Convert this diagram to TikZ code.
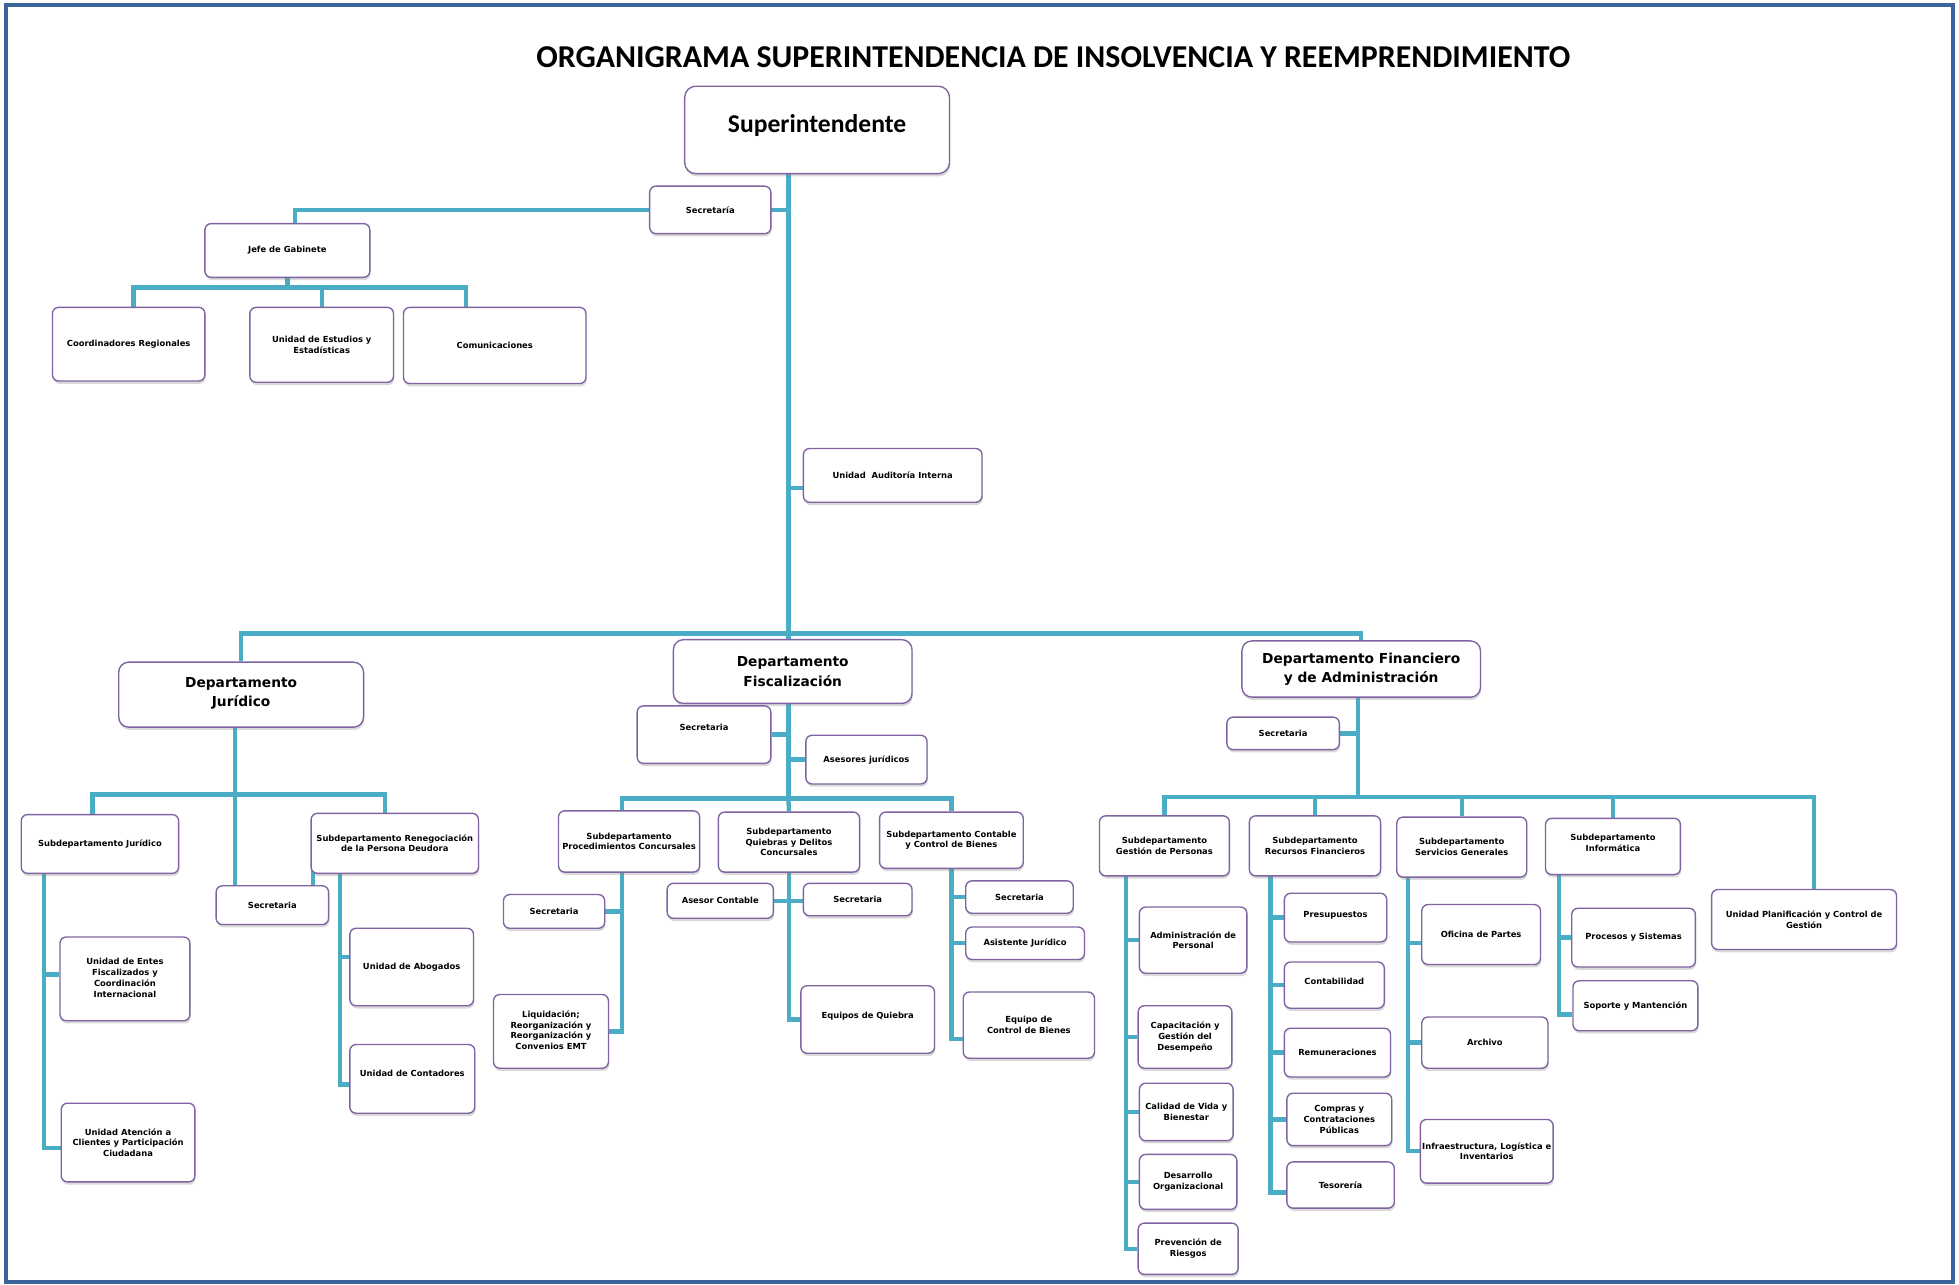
\documentclass[tikz,border=0pt]{standalone}
\usepackage{fontspec}
\setmainfont{DejaVu Sans}
\newfontfamily\calibri{Carlito}
\usetikzlibrary{positioning,backgrounds,shadows}

\definecolor{linkblue}{HTML}{4BACC6}
\definecolor{boxpurple}{HTML}{8064A2}
\definecolor{frameblue}{HTML}{3D6498}

\newcommand{\lift}[2]{\raisebox{#1}{\begin{tabular}{@{}c@{}}#2\end{tabular}}}

\begin{document}
\begin{tikzpicture}
[x=1pt,y=-1pt,
box/.style={rectangle,rounded corners=5pt,draw=boxpurple,line width=1.1pt,fill=white,
  drop shadow={shadow xshift=0.6pt,shadow yshift=-2.2pt,opacity=0.3},
  align=center,inner sep=1.5pt,font=\bfseries\fontsize{6.7}{8.6}\selectfont},
dept/.style={box,rounded corners=8pt,font=\bfseries\fontsize{11}{15.5}\selectfont},
dim/.style 2 args={minimum width=#1pt,minimum height=#2pt},
link/.style={draw=linkblue,line width=3.5pt}]

\useasboundingbox (0,0) rectangle (1568,1028);
\draw[frameblue,line width=3pt] (5,4) rectangle (1563,1026);

\node[font=\calibri\bfseries\fontsize{25.5}{30}\selectfont] (title) at (843,46)
  {ORGANIGRAMA SUPERINTENDENCIA DE INSOLVENCIA Y REEMPRENDIMIENTO};

% top level
\node[box,rounded corners=9pt,dim={212}{70},font=\calibri\bfseries\fontsize{20.5}{24}\selectfont]
  (superintendente) at (654,104) {\lift{12pt}{Superintendente}};
\node[box,dim={97}{38}] (secretaria) at (568.5,168) {Secretaría};
\node[box,dim={132}{43}] (jefe) at (230,200.5) {Jefe de Gabinete};
\node[box,dim={122}{59}] (coordinadores) at (103,275.5) {Coordinadores Regionales};
\node[box,dim={115}{60}] (estudios) at (257.5,276) {Unidad de Estudios y\\Estadísticas};
\node[box,dim={146}{61}] (comunicaciones) at (396,276.5) {Comunicaciones};
\node[box,dim={143}{43}] (auditoria) at (714.5,380.5) {Unidad\ \ Auditoría Interna};

% departments
\node[dept,dim={196}{52}] (juridico) at (193,556) {\lift{15pt}{Departamento\\Jurídico}};
\node[dept,dim={191}{51}] (fiscalizacion) at (634.5,537.5) {Departamento\\Fiscalización};
\node[dept,dim={191}{45}] (financiero) at (1089.5,535.5) {Departamento Financiero\\y de Administración};

% juridico
\node[box,dim={126}{47}] (sub juridico) at (80,675.5) {Subdepartamento Jurídico};
\node[box,dim={134}{48}] (sub renegociacion) at (316,675) {Subdepartamento Renegociación\\de la Persona Deudora};
\node[box,dim={90}{31}] (secretaria juridico) at (218,724.5) {Secretaria};
\node[box,dim={104}{67}] (entes) at (100,783.5) {\lift{8pt}{Unidad de Entes\\Fiscalizados y\\Coordinación\\Internacional}};
\node[box,dim={107}{63}] (atencion) at (102.5,914.5) {Unidad Atención a\\Clientes y Participación\\Ciudadana};
\node[box,dim={99}{62}] (abogados) at (329.5,774) {Unidad de Abogados};
\node[box,dim={100}{55}] (contadores) at (330,863.5) {\lift{9pt}{Unidad de Contadores}};

% fiscalizacion
\node[box,dim={107}{46}] (secretaria fiscalizacion) at (563.5,588) {\lift{12pt}{Secretaria}};
\node[box,dim={97}{39}] (asesores) at (693.5,608) {Asesores jurídicos};
\node[box,dim={113}{49}] (sub procedimientos) at (503.5,673.5) {Subdepartamento\\Procedimientos Concursales};
\node[box,dim={113}{48}] (sub quiebras) at (631.5,674) {Subdepartamento\\Quiebras y Delitos\\Concursales};
\node[box,dim={115}{45}] (sub contable) at (761.5,672.5) {Subdepartamento Contable\\y Control de Bienes};
\node[box,dim={81}{27}] (secretaria procedimientos) at (443.5,729.5) {Secretaria};
\node[box,dim={92}{59}] (liquidacion) at (441,825.5) {\lift{10pt}{Liquidación;\\Reorganización y\\Reorganización y\\Convenios EMT}};
\node[box,dim={85}{28}] (asesor contable) at (576.5,721) {Asesor Contable};
\node[box,dim={87}{26}] (secretaria quiebras) at (686.5,720) {Secretaria};
\node[box,dim={107}{54}] (equipos quiebra) at (694.5,816) {\lift{8pt}{Equipos de Quiebra}};
\node[box,dim={86}{26}] (secretaria contable) at (816,718) {Secretaria};
\node[box,dim={95}{26}] (asistente) at (820.5,755) {Asistente Jurídico};
\node[box,dim={105}{53}] (equipo bienes) at (823.5,820.5) {Equipo de\\Control de Bienes};

% financiero
\node[box,dim={90}{26}] (secretaria financiero) at (1027,587) {Secretaria};
\node[box,dim={104}{48}] (sub personas) at (932,677) {Subdepartamento\\Gestión de Personas};
\node[box,dim={105}{48}] (sub recursos) at (1052.5,677) {Subdepartamento\\Recursos Financieros};
\node[box,dim={104}{48}] (sub servicios) at (1170,678) {Subdepartamento\\Servicios Generales};
\node[box,dim={108}{45}] (sub informatica) at (1291,677.5) {\lift{11pt}{Subdepartamento\\Informática}};
\node[box,dim={148}{48}] (planificacion) at (1444,736) {Unidad Planificación y Control de\\Gestión};

\node[box,dim={86}{53}] (administracion) at (955,752.5) {Administración de\\Personal};
\node[box,dim={75}{50}] (capacitacion) at (948.5,830) {Capacitación y\\Gestión del\\Desempeño};
\node[box,dim={75}{46}] (calidad) at (949.5,890) {Calidad de Vida y\\Bienestar};
\node[box,dim={78}{44}] (desarrollo) at (951,946) {Desarrollo\\Organizacional};
\node[box,dim={80}{41}] (prevencion) at (951,999.5) {Prevención de\\Riesgos};

\node[box,dim={82}{39}] (presupuestos) at (1069,734.5) {\lift{7pt}{Presupuestos}};
\node[box,dim={80}{37}] (contabilidad) at (1068,788.5) {\lift{7pt}{Contabilidad}};
\node[box,dim={85}{39}] (remuneraciones) at (1070.5,842.5) {Remuneraciones};
\node[box,dim={84}{42}] (compras) at (1072,896) {Compras y\\Contrataciones\\Públicas};
\node[box,dim={86}{37}] (tesoreria) at (1073,948.5) {Tesorería};

\node[box,dim={95}{48}] (oficina partes) at (1185.5,748) {Oficina de Partes};
\node[box,dim={101}{41}] (archivo) at (1188.5,834.5) {Archivo};
\node[box,dim={106}{51}] (infraestructura) at (1190,921.5) {Infraestructura, Logística e\\Inventarios};

\node[box,dim={99}{47}] (procesos) at (1307.5,750.5) {Procesos y Sistemas};
\node[box,dim={100}{40}] (soporte) at (1309,805) {Soporte y Mantención};

% junctions
\coordinate (top) at (631,507);
\coordinate (gabinete) at (230,230);
\coordinate (bar juridico) at (188,636);
\coordinate (bar fiscalizacion) at (631,639);
\coordinate (bar financiero) at (1087,638);
\coordinate (spine juridico) at (35,699);
\coordinate (spine renegociacion) at (272,699);
\coordinate (spine procedimientos) at (498,698);
\coordinate (spine personas) at (901,701);
\coordinate (spine recursos) at (1017,701);
\coordinate (spine servicios) at (1127,702);
\coordinate (spine informatica) at (1248,700);

\begin{scope}[on background layer]
% top
\draw[link] (superintendente.south -| top) -- (top);
\draw[link] (juridico.north) |- (top) -| (financiero.north);
\draw[link] (top) -- (fiscalizacion.north -| top);
\draw[link] ([xshift=6pt]jefe.north) |- (secretaria.east -| top);
\draw[link] ([yshift=-10pt]auditoria.west) -- ([yshift=-10pt]auditoria.west -| top);
\draw[link] (jefe.south) -- (gabinete);
\draw[link] ([xshift=4pt]coordinadores.north) |- (gabinete) -| ([xshift=-23pt]comunicaciones.north);
\draw[link] (estudios.north) -- (estudios.north |- gabinete);
% juridico
\draw[link] (juridico.south -| bar juridico) -- (secretaria juridico.north -| bar juridico);
\draw[link] ([xshift=-6pt]sub juridico.north) |- (bar juridico) -| ([xshift=-8pt]sub renegociacion.north);
\draw[link] ([xshift=2pt,yshift=6pt]sub renegociacion.south west) -- ([xshift=2pt]sub renegociacion.south west |- secretaria juridico.north);
\draw[link] (spine juridico) |- ([yshift=3.5pt]entes.west);
\draw[link] (spine juridico) |- ([yshift=-4.5pt]atencion.west);
\draw[link] (spine renegociacion) |- ([yshift=8pt]abogados.west);
\draw[link] (spine renegociacion) |- ([yshift=-4.5pt]contadores.west);
% fiscalizacion
\draw[link] (fiscalizacion.south -| bar fiscalizacion) -- (bar fiscalizacion);
\draw[link] (secretaria fiscalizacion.east) -- (secretaria fiscalizacion.east -| bar fiscalizacion);
\draw[link] (asesores.west) -- (asesores.west -| bar fiscalizacion);
\draw[link] (sub procedimientos.north -| spine procedimientos) |- (bar fiscalizacion) -| (sub contable.north);
\draw[link] (bar fiscalizacion) -- (sub quiebras.north);
\draw[link] (spine procedimientos) |- (secretaria procedimientos.east);
\draw[link] (spine procedimientos) |- (liquidacion.east);
\draw[link] (sub quiebras.south) |- (equipos quiebra.west);
\draw[link] (asesor contable.east) -- (asesor contable.east -| secretaria quiebras.west);
\draw[link] (sub contable.south) |- (secretaria contable.west);
\draw[link] (sub contable.south) |- (asistente.west);
\draw[link] (sub contable.south) |- ([yshift=-11pt]equipo bienes.west);
% financiero
\draw[link] (financiero.south -| bar financiero) -- (bar financiero);
\draw[link] (secretaria financiero.east) -- (secretaria financiero.east -| bar financiero);
\draw[link] (sub personas.north) |- (bar financiero) -| ([xshift=8pt]planificacion.north);
\draw[link] (sub recursos.north) -- (sub recursos.north |- bar financiero);
\draw[link] (sub servicios.north) -- (sub servicios.north |- bar financiero);
\draw[link] (sub informatica.north) -- (sub informatica.north |- bar financiero);
\draw[link] (spine personas) |- (administracion.west);
\draw[link] (spine personas) |- (capacitacion.west);
\draw[link] (spine personas) |- (calidad.west);
\draw[link] (spine personas) |- (desarrollo.west);
\draw[link] (spine personas) |- (prevencion.west);
\draw[link] (spine recursos) |- (presupuestos.west);
\draw[link] (spine recursos) |- (contabilidad.west);
\draw[link] (spine recursos) |- (remuneraciones.west);
\draw[link] (spine recursos) |- (compras.west);
\draw[link] (spine recursos) |- ([yshift=-6pt]tesoreria.west);
\draw[link] (spine servicios) |- ([yshift=-7pt]oficina partes.west);
\draw[link] (spine servicios) |- (archivo.west);
\draw[link] (spine servicios) |- (infraestructura.west);
\draw[link] (spine informatica) |- (procesos.west);
\draw[link] (spine informatica) |- ([yshift=-7pt]soporte.west);
\end{scope}
\end{tikzpicture}
\end{document}
